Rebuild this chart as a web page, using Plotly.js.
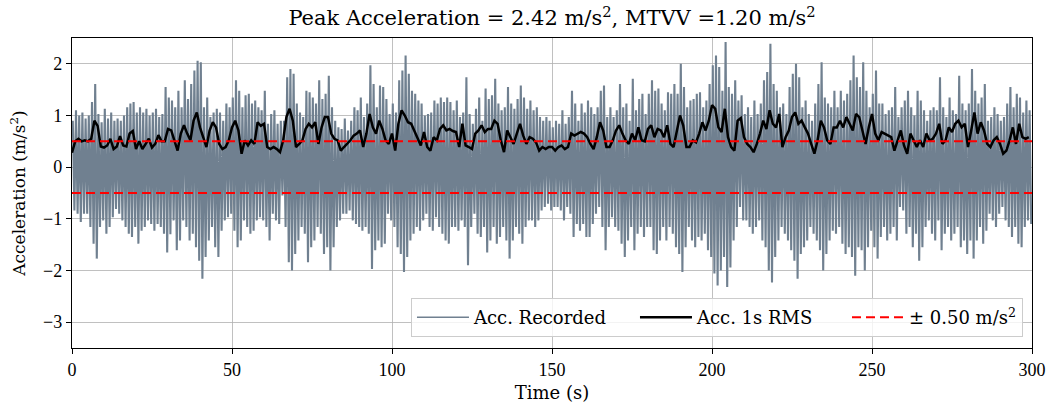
<!DOCTYPE html>
<html>
<head>
<meta charset="utf-8">
<script src="https://cdn.plot.ly/plotly-3.0.1.min.js"></script>
<style>html,body{margin:0;padding:0;background:#fff;}#chart{width:1054px;height:403px;}</style>
</head>
<body>
<div id="chart"></div>
<script>
// Per-second upper peaks of recorded acceleration (m/s^2), t = 0..299 s
const accUpper = [
0.90,1.10,1.00,1.06,0.94,1.00,1.26,1.61,1.03,0.87,1.13,0.94,1.06,0.90,0.94,0.90,1.00,1.16,1.23,1.26,1.06,1.16,1.06,1.13,1.00,1.06,1.13,0.97,1.03,1.55,
1.35,1.29,1.16,1.48,1.16,1.68,1.32,1.61,1.87,2.06,2.03,1.16,1.35,0.97,1.06,1.13,1.06,0.90,1.23,1.16,1.35,1.68,1.48,1.16,1.39,1.42,1.23,1.29,1.16,1.10,
1.48,0.84,1.03,1.10,0.84,0.90,0.90,1.74,1.90,1.81,1.23,1.06,0.97,1.48,1.45,1.35,1.23,1.68,1.32,1.42,1.77,1.16,0.90,0.77,0.74,0.94,0.71,0.90,1.16,1.10,
1.35,0.97,1.23,1.97,1.61,1.16,1.58,1.55,1.32,1.03,1.23,1.06,1.68,1.87,2.16,1.81,1.48,1.42,1.29,1.23,1.00,1.03,1.06,1.29,1.23,1.35,1.26,1.35,1.26,1.10,
1.29,0.97,1.06,1.74,1.03,0.84,1.13,1.35,0.90,1.52,1.32,1.39,1.71,1.23,1.10,1.16,1.55,1.23,1.13,1.32,1.58,1.35,1.13,1.29,1.10,1.16,0.97,0.90,0.97,0.90,
0.77,0.90,0.84,1.10,0.84,0.97,1.48,1.23,0.90,1.23,1.06,1.29,1.16,1.03,1.16,1.48,1.58,0.97,1.16,0.97,1.10,1.61,1.16,1.23,0.90,1.71,1.10,1.32,1.42,1.03,
1.42,1.68,1.48,1.52,1.23,1.10,1.45,1.42,1.61,1.42,2.00,1.55,1.16,1.29,1.32,1.42,1.45,1.16,1.29,1.61,1.97,2.16,1.94,1.48,2.42,1.55,1.42,1.68,1.29,1.39,
1.03,1.16,0.97,1.29,1.03,1.23,1.68,1.84,2.39,1.61,1.48,1.16,1.23,1.03,1.55,1.81,2.00,1.74,1.16,1.29,1.03,0.90,1.23,1.61,2.03,1.35,1.23,1.16,1.48,1.16,
1.48,1.29,1.42,1.68,2.16,1.74,1.55,2.03,1.48,1.16,1.42,1.87,1.23,1.23,1.03,1.10,1.16,1.55,0.97,1.16,1.29,1.48,1.16,1.00,1.48,1.29,1.10,0.90,1.10,1.16,
1.10,1.74,1.16,0.97,1.35,1.10,1.03,1.77,1.23,1.10,1.23,1.90,1.48,1.23,1.35,1.61,0.90,0.97,1.16,1.03,0.90,0.97,1.23,1.55,1.16,1.42,1.35,1.06,1.29,1.10
];
// Per-second lower peaks of recorded acceleration (m/s^2)
const accLower = [
-0.84,-0.90,-1.06,-0.90,-0.90,-1.16,-1.48,-1.77,-1.16,-1.03,-1.29,-1.16,-0.97,-0.81,-0.90,-1.03,-1.16,-1.29,-1.35,-1.16,-1.48,-1.23,-1.16,-1.03,-1.10,-1.23,-1.10,-1.16,-1.29,-1.65,
-1.30,-1.03,-1.61,-1.42,-1.03,-1.16,-1.42,-1.29,-1.55,-1.81,-2.16,-1.74,-1.42,-1.16,-1.55,-1.74,-1.23,-1.03,-0.97,-0.90,-1.23,-1.55,-1.42,-1.03,-1.16,-1.29,-1.23,-1.03,-0.97,-1.03,
-1.16,-1.42,-0.90,-1.03,-1.10,-0.55,-1.16,-1.84,-2.00,-1.68,-1.42,-1.16,-1.29,-1.84,-1.55,-1.42,-1.16,-1.29,-1.68,-1.55,-2.00,-1.55,-1.16,-1.03,-0.90,-0.90,-0.84,-1.03,-1.10,-1.16,
-1.23,-1.16,-1.29,-1.97,-1.61,-1.42,-1.55,-1.48,-0.90,-1.03,-1.16,-1.55,-1.68,-2.03,-1.74,-1.42,-1.29,-1.16,-1.23,-1.03,-0.90,-1.16,-1.23,-0.97,-1.16,-1.29,-1.42,-1.48,-1.16,-1.16,
-1.23,-1.03,-1.16,-1.90,-1.16,-0.90,-1.29,-1.35,-1.16,-1.65,-1.42,-1.16,-1.48,-1.35,-1.16,-1.42,-1.77,-1.42,-1.16,-1.29,-1.48,-1.16,-1.03,-1.03,-1.16,-1.03,-0.84,-0.77,-0.71,-0.84,
-0.77,-0.77,-0.84,-1.03,-0.77,-0.90,-1.35,-1.10,-1.23,-1.10,-1.35,-1.35,-1.10,-0.90,-0.77,-1.16,-1.61,-1.16,-0.97,-1.16,-1.23,-1.48,-1.74,-1.42,-1.16,-1.61,-1.29,-1.16,-1.35,-1.16,
-1.16,-1.61,-1.68,-1.42,-1.16,-1.42,-1.16,-1.29,-1.55,-1.68,-2.03,-1.55,-1.16,-1.42,-1.55,-1.35,-1.42,-1.29,-1.61,-1.74,-2.06,-2.29,-2.00,-1.74,-2.32,-1.94,-1.42,-1.16,-0.77,-1.03,
-1.03,-1.16,-1.29,-1.16,-1.03,-1.42,-1.55,-2.00,-2.23,-1.74,-1.42,-1.16,-1.29,-1.42,-1.61,-1.81,-2.16,-1.68,-1.55,-1.42,-1.16,-1.29,-1.42,-1.61,-2.00,-1.68,-1.42,-1.23,-1.29,-1.16,
-1.48,-1.68,-1.55,-1.74,-2.10,-1.55,-1.61,-2.00,-1.55,-1.23,-1.55,-1.77,-1.35,-1.16,-1.42,-1.29,-1.16,-1.42,-0.77,-0.84,-1.29,-1.16,-1.55,-1.29,-1.81,-1.55,-1.16,-1.03,-1.29,-1.42,
-1.03,-1.61,-1.29,-1.16,-1.42,-1.29,-1.16,-1.55,-1.42,-1.68,-1.42,-1.77,-1.42,-1.16,-1.48,-1.23,-0.90,-1.03,-1.16,-0.90,-0.77,-1.03,-1.16,-1.35,-1.16,-1.48,-1.55,-1.16,-1.03,-1.10
];
// 1 s running RMS (m/s^2), sampled each second, t = 0..299 s
const rms1s = [
0.28,0.50,0.55,0.50,0.52,0.50,0.55,0.90,0.80,0.40,0.38,0.42,0.55,0.35,0.40,0.60,0.42,0.40,0.65,0.70,0.35,0.50,0.35,0.45,0.55,0.38,0.45,0.62,0.50,0.50,
0.74,0.71,0.52,0.32,0.65,0.81,0.65,0.52,0.90,1.06,0.77,0.58,0.39,0.71,0.87,0.77,0.45,0.35,0.39,0.52,0.77,0.90,0.71,0.26,0.52,0.42,0.52,0.45,0.87,0.80,
0.84,0.39,0.35,0.39,0.35,0.29,0.52,0.97,1.13,0.90,0.39,0.45,0.52,0.74,0.84,0.77,0.87,0.45,0.77,0.97,0.97,0.65,0.55,0.52,0.32,0.39,0.45,0.52,0.61,0.65,
0.71,0.39,0.65,1.03,0.77,0.65,0.90,0.74,0.52,0.45,0.65,0.32,0.84,1.10,1.00,0.87,0.84,0.71,0.58,0.42,0.68,0.39,0.32,0.58,0.52,0.74,0.81,0.71,0.74,0.70,
0.68,0.39,0.84,0.42,0.39,0.35,0.65,0.71,0.81,0.68,0.74,0.74,0.90,0.84,0.52,0.29,0.71,0.58,0.45,0.65,0.84,0.61,0.45,0.58,0.55,0.48,0.32,0.39,0.35,0.39,
0.39,0.32,0.39,0.42,0.35,0.39,0.65,0.61,0.65,0.68,0.65,0.58,0.45,0.35,0.58,0.87,0.71,0.39,0.39,0.52,0.71,0.81,0.65,0.52,0.45,0.65,0.52,0.77,0.52,0.50,
0.74,0.81,0.58,0.74,0.71,0.58,0.81,0.45,0.39,0.71,1.00,0.81,0.39,0.39,0.52,0.48,0.65,0.87,0.71,0.90,1.20,1.13,0.77,0.68,1.13,0.58,0.39,0.32,0.90,0.95,
0.58,0.45,0.39,0.29,0.45,0.65,0.90,0.74,1.10,0.84,0.77,1.03,0.39,0.58,0.71,0.97,1.06,0.84,0.90,0.77,0.65,0.45,0.26,0.52,0.90,0.77,0.52,0.45,0.77,0.77,
0.90,0.77,0.97,0.84,0.71,1.03,0.97,0.71,0.45,0.77,1.03,0.65,0.52,0.68,0.65,0.61,0.58,0.32,0.52,0.71,0.42,0.26,0.65,0.52,0.39,0.52,0.39,0.65,0.52,0.55,
0.65,0.84,0.45,0.52,0.77,0.68,0.84,0.90,0.77,0.84,0.39,0.71,1.06,0.65,0.87,0.71,0.45,0.39,0.52,0.58,0.45,0.26,0.32,0.52,0.77,0.45,0.84,0.58,0.55,0.58
];
const threshold = 0.50;
const tStart = 0, tEnd = 300;
const xTicks = [0, 50, 100, 150, 200, 250, 300];
const yTicks = [-3, -2, -1, 0, 1, 2];
const peakAcc = 2.42, mtvv = 1.20;

// Build the recorded trace by alternating each second's upper and lower peak
const sigX = [], sigY = [];
for (let i = 0; i < accUpper.length; i++) {
  sigX.push(i + 0.25); sigY.push(accUpper[i]);
  sigX.push(i + 0.75); sigY.push(accLower[i]);
}
const rmsX = rms1s.map((_, i) => i);

const numFont = "'Liberation Serif', serif";
const txtFont = "'DejaVu Serif', 'Liberation Serif', serif";
const sigColor = '#708090';
const redDash = {color: '#ff0000', width: 2, dash: '9px,5px'};

const traces = [
  {x: sigX, y: sigY, type: 'scatter', mode: 'lines', showlegend: false,
   line: {color: sigColor, width: 2.1}},
  // legend proxy for the recorded signal (thin line, no data drawn)
  {x: [null], y: [null], type: 'scatter', mode: 'lines', name: 'Acc. Recorded',
   legendwidth: 156, line: {color: sigColor, width: 1.5}},
  {x: rmsX, y: rms1s, type: 'scatter', mode: 'lines', name: 'Acc. 1s RMS',
   legendwidth: 145, line: {color: '#000000', width: 2.5}},
  {x: [tStart, tEnd], y: [threshold, threshold], type: 'scatter', mode: 'lines',
   name: '± ' + threshold.toFixed(2) + ' m/s<sup>2</sup>', legendwidth: 108, line: redDash},
  {x: [tStart, tEnd], y: [-threshold, -threshold], type: 'scatter', mode: 'lines',
   showlegend: false, line: redDash}
];

const layout = {
  width: 1054, height: 403,
  margin: {l: 72, r: 22, t: 38, b: 55},
  paper_bgcolor: '#ffffff', plot_bgcolor: '#ffffff',
  font: {family: txtFont, size: 18, color: '#000'},
  title: {text: 'Peak Acceleration = ' + peakAcc.toFixed(2) + ' m/s<sup>2</sup>, MTVV =' + mtvv.toFixed(2) + ' m/s<sup>2</sup>',
          font: {family: txtFont, size: 21, color: '#000'},
          x: 0.5, xref: 'paper', xanchor: 'center', y: 0.955, yref: 'container', yanchor: 'middle'},
  xaxis: {range: [tStart, tEnd], tickvals: xTicks, ticks: 'outside', ticklen: 5, tickcolor: '#000',
          showline: true, linecolor: '#000', linewidth: 1.2, mirror: true,
          showgrid: true, gridcolor: '#b0b0b0', gridwidth: 0.8, zeroline: false,
          tickfont: {family: numFont, size: 18},
          title: {text: 'Time (s)', font: {family: txtFont, size: 18}, standoff: 8}},
  yaxis: {range: [-3.5, 2.5], tickvals: yTicks, ticks: 'outside', ticklen: 5, tickcolor: '#000',
          showline: true, linecolor: '#000', linewidth: 1.2, mirror: true,
          showgrid: true, gridcolor: '#b0b0b0', gridwidth: 0.8, zeroline: false,
          tickfont: {family: numFont, size: 18},
          title: {text: 'Acceleration (m/s<sup>2</sup>)', font: {family: txtFont, size: 17}, standoff: 13}},
  legend: {orientation: 'h', x: 0.9906, xanchor: 'right', y: 0.035, yanchor: 'bottom',
           bgcolor: 'rgba(255,255,255,0.8)', bordercolor: '#cccccc', borderwidth: 1,
           itemwidth: 52,
           font: {family: txtFont, size: 18}},
  showlegend: true
};

Plotly.newPlot('chart', traces, layout, {staticPlot: true, displayModeBar: false});
</script>
</body>
</html>
